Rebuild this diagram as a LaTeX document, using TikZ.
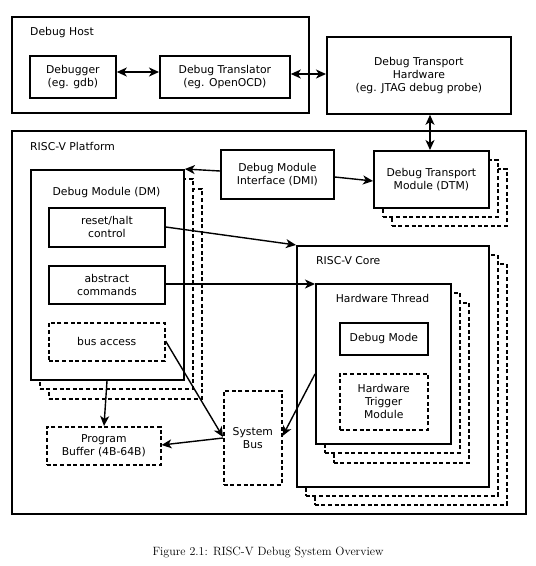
\documentclass[tikz,border=0pt]{standalone}
\usepackage{fontspec}
\newfontfamily\dv{DejaVu Sans}
\usetikzlibrary{arrows.meta}
\tikzset{
  box/.style={draw, line width=1.8pt, fill=white, inner sep=0pt, align=center,
    font=\dv\fontsize{10.8}{13}\selectfont, anchor=north west},
  dbox/.style={box, line width=1.6pt, dash pattern=on 4pt off 2.6pt},
  lbl/.style={inner sep=0pt, font=\dv\fontsize{10.8}{13}\selectfont},
  tip/.tip={Stealth[length=10pt,width=9pt,inset=2.8pt]},
  con/.style={line width=1.4pt, -tip},
  dcon/.style={line width=1.4pt, tip-tip},
}
\begin{document}
\begin{tikzpicture}[x=1pt,y=-1pt]
\useasboundingbox (0,0) rectangle (536,566);
% Debug host
\node[box, fill=none, minimum width=297pt, minimum height=96pt] (host) at (11,16) {};
\node[lbl, anchor=west] (hostl) at (30,33) {Debug Host};
\node[box, minimum width=86pt, minimum height=42pt] (dbg) at (29,55) {Debugger\\(eg. gdb)};
\node[box, minimum width=130pt, minimum height=42pt] (trans) at (159,55) {Debug Translator\\(eg. OpenOCD)};
\node[box, minimum width=184pt, minimum height=77pt] (hw) at (326,36) {Debug Transport\\Hardware\\(eg. JTAG debug probe)};
% Platform
\node[box, fill=none, minimum width=514pt, minimum height=383pt] (plat) at (11,130) {};
\node[lbl, anchor=west] (platl) at (30,146) {RISC-V Platform};
% DM
\node[dbox, minimum width=153pt, minimum height=210pt] (dm2) at (48,188) {};
\node[dbox, minimum width=153pt, minimum height=210pt] (dm1) at (39,178) {};
\node[box, minimum width=153pt, minimum height=210pt] (dm) at (30,169) {};
\node[lbl] (dml) at (106.5,193) {Debug Module (DM)};
\node[box, minimum width=116pt, minimum height=39pt] (rh) at (48,207) {reset/halt\\control};
\node[box, minimum width=116pt, minimum height=38pt] (ac) at (48,265) {abstract\\commands};
\node[dbox, minimum width=116pt, minimum height=38pt] (ba) at (48,322) {bus access};
% DMI
\node[box, minimum width=113pt, minimum height=49pt] (dmi) at (220,149) {Debug Module\\Interface (DMI)};
% DTM
\node[dbox, minimum width=115pt, minimum height=57pt] (dtm2) at (391,168) {};
\node[dbox, minimum width=115pt, minimum height=57pt] (dtm1) at (382,159) {};
\node[box, minimum width=115pt, minimum height=57pt] (dtm) at (373,150) {Debug Transport\\Module (DTM)};
% Core
\node[dbox, minimum width=192pt, minimum height=241pt] (core2) at (314,263) {};
\node[dbox, minimum width=192pt, minimum height=241pt] (core1) at (305,254) {};
\node[box, minimum width=192pt, minimum height=241pt] (core) at (296,245) {};
\node[lbl, anchor=west] (corel) at (316,261) {RISC-V Core};
% Thread
\node[dbox, minimum width=135pt, minimum height=160pt] (th2) at (333,302) {};
\node[dbox, minimum width=135pt, minimum height=160pt] (th1) at (324,292) {};
\node[box, minimum width=135pt, minimum height=160pt] (th) at (315,283) {};
\node[lbl] (thl) at (382.5,298) {Hardware Thread};
\node[box, minimum width=88pt, minimum height=32pt] (dmode) at (339,322) {Debug Mode};
\node[dbox, minimum width=88pt, minimum height=56pt] (trig) at (339,373) {Hardware\\Trigger\\Module};
% Bus and buffer
\node[dbox, minimum width=58pt, minimum height=94pt] (sbus) at (223,390) {System\\Bus};
\node[dbox, minimum width=114pt, minimum height=38pt] (pb) at (46,426) {Program\\Buffer (4B-64B)};
% Connectors
\draw[dcon] (dbg.east |- 0,72) -- (trans.west |- 0,72);
\draw[dcon] (trans.east |- 0,74) -- (hw.west |- 0,74);
\draw[dcon] (hw.south -| 430,0) -- (dtm.north -| 430,0);
\draw[con] (dmi.west |- 0,171) -- (dm.north east);
\draw[con] (dmi.east |- 0,177) -- (dtm.west |- 0,181);
\draw[con] (rh.east |- 0,227) -- (core.north west);
\draw[con] (ac.east |- 0,284) -- (th.west |- 0,284);
\draw[con] (ba.east |- 0,341) -- (sbus.west |- 0,437);
\draw[con] (th.west |- 0,374) -- (sbus.east |- 0,436);
\draw[con] (sbus.west |- 0,438) -- (pb.east |- 0,445);
\draw[con] (dm.south -| 107,0) -- (pb.north -| 104,0);
% Caption
\node[inner sep=0pt, font=\fontsize{12}{14}\selectfont] (cap) at (268,552) {Figure 2.1: RISC-V Debug System Overview};
\end{tikzpicture}
\end{document}
